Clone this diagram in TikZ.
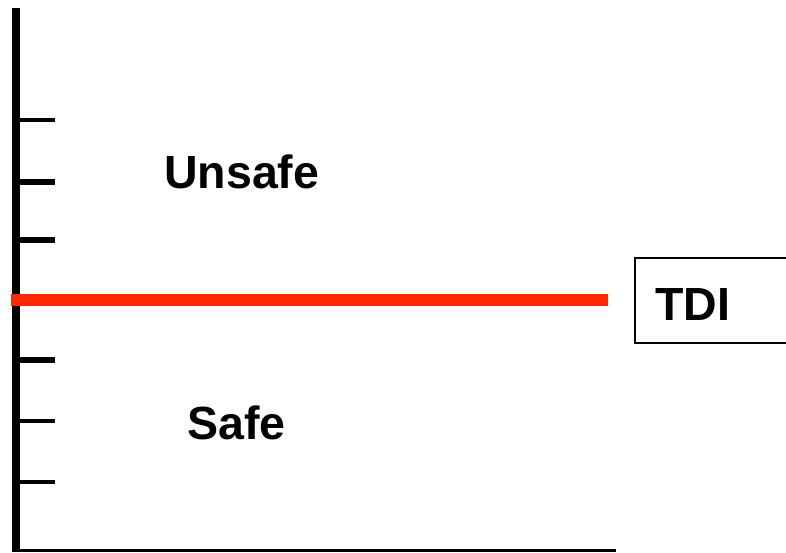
\documentclass[tikz,border=0pt]{standalone}
\usepackage{fontspec}
\setmainfont{Liberation Sans}
\begin{document}
\begin{tikzpicture}[x=1pt,y=-1pt,
  lbl/.style={font=\fontsize{46.5}{54}\selectfont\bfseries, inner sep=0pt, anchor=base west},
  thicktick/.style={line width=6pt},
  thintick/.style={line width=3.5pt},
  axisline/.style={line width=8pt},
  baseline/.style={line width=3pt},
  tdiline/.style={line width=11.5pt, draw={rgb,255:red,255;green,40;blue,0}},
  boxstyle/.style={draw, line width=1.5pt, minimum width=180pt, minimum height=85pt, anchor=north west, inner sep=0pt}
]
\useasboundingbox (0,0) rectangle (786,552);
\clip (0,0) rectangle (786,552);
% axes
\coordinate (atop) at (16,8);
\coordinate (abot) at (16,552);
\coordinate (bl) at (12,550.5);
\coordinate (br) at (616,550.5);
\draw[axisline] (atop) -- (abot);
\draw[baseline] (bl) -- (br);
% ticks
\foreach \yy/\st in {120/thintick,182/thicktick,240/thicktick,360/thicktick,421/thintick,482/thintick}{
  \coordinate (ta) at (20,\yy);
  \coordinate (tb) at (55,\yy);
  \draw[\st] (ta) -- (tb);
}
% TDI line
\coordinate (ra) at (10.5,300);
\coordinate (rb) at (607.5,300);
\draw[tdiline] (ra) -- (rb);
% box
\node[boxstyle] (tdibox) at (634,257) {};
\node[lbl] (tdi) at (655,320.5) {TDI};
% labels
\node[lbl] (unsafe) at (164,188.5) {Unsafe};
\node[lbl] (safe) at (187,439) {Safe};
\end{tikzpicture}
\end{document}
